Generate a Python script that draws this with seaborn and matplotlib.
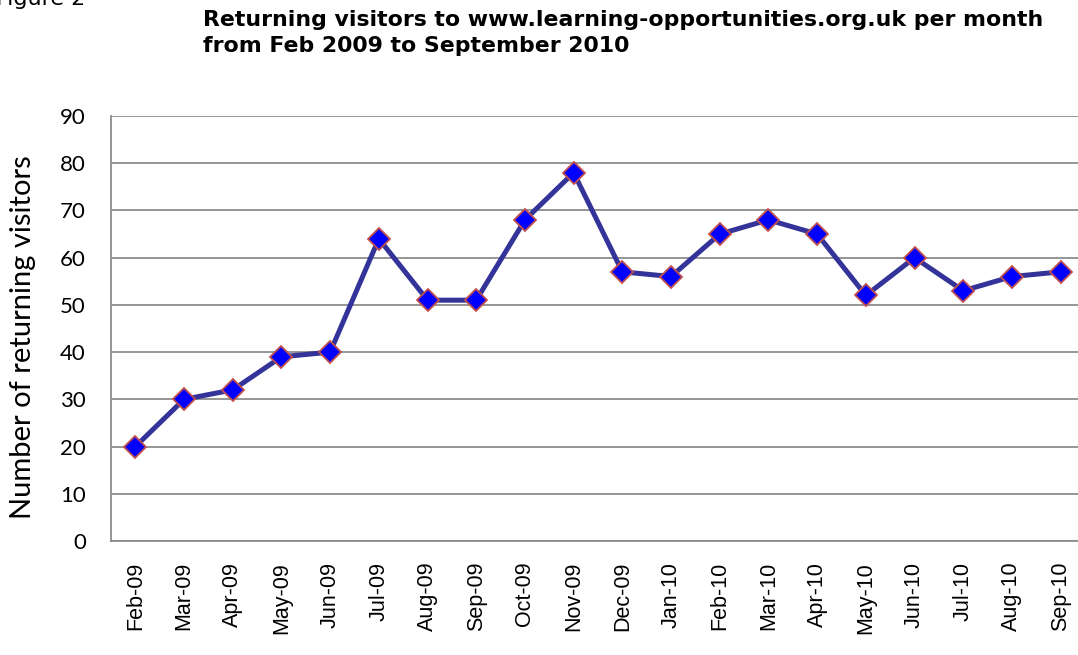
import matplotlib
matplotlib.use("Agg")
import matplotlib.pyplot as plt
import seaborn as sns
import pandas as pd

months = ["Feb-09", "Mar-09", "Apr-09", "May-09", "Jun-09", "Jul-09", "Aug-09", "Sep-09",
          "Oct-09", "Nov-09", "Dec-09", "Jan-10", "Feb-10", "Mar-10", "Apr-10", "May-10",
          "Jun-10", "Jul-10", "Aug-10", "Sep-10"]
visitors = [20, 30, 32, 39, 40, 64, 51, 51, 68, 78, 57, 56, 65, 68, 65, 52, 60, 53, 56, 57]
yticks = [0, 10, 20, 30, 40, 50, 60, 70, 80, 90]

sns.set_theme(style="white")
plt.rcParams['font.family'] = ['Liberation Sans', 'DejaVu Sans']
plt.rcParams['text.color'] = 'black'
plt.rcParams['xtick.color'] = 'black'
plt.rcParams['ytick.color'] = 'black'
plt.rcParams['axes.labelcolor'] = 'black'

df = pd.DataFrame({"month": months, "visitors": visitors, "idx": range(len(months))})

W, H = 1078, 655
fig = plt.figure(figsize=(W / 100, H / 100), dpi=100)
left, right, top, bottom = 111, 1085, 116, 541
ax = fig.add_axes([left / W, 1 - bottom / H, (right - left) / W, (bottom - top) / H])

sns.lineplot(data=df, x="idx", y="visitors", ax=ax, color="#333399", linewidth=3.6,
             marker="D", markersize=11, markerfacecolor="#0000FF",
             markeredgecolor="#C0504D", markeredgewidth=1.3, zorder=3)

ax.set_xlim(-0.5, len(months) - 0.5)
ax.set_ylim(0, 90)
ax.set_yticks(yticks)
ax.set_yticklabels([str(v) for v in yticks], fontsize=16, family=['Lato', 'DejaVu Sans'])
ax.set_xticks(range(len(months)))
ax.set_xticklabels(months, rotation=90, fontsize=15.5)
ax.tick_params(axis="x", length=0, pad=15)
ax.tick_params(axis="y", length=0, pad=18)
ax.yaxis.grid(True, color="#8c8c8c", linewidth=1.3)
ax.set_axisbelow(True)
for s in ["top", "right"]:
    ax.spines[s].set_visible(False)
for s in ["left", "bottom"]:
    ax.spines[s].set_color("#8c8c8c")
    ax.spines[s].set_linewidth(1.3)
ax.set_xlabel("")
ax.set_ylabel("Number of returning visitors", fontsize=21, family=['Lato', 'DejaVu Sans'])
ax.yaxis.set_label_coords((36 - left) / (right - left), (bottom - 337.5) / (bottom - top))

title_font = dict(fontsize=15.8, fontweight="bold", ha="left", va="center",
                  family=['DejaVu Sans'])
fig.text(203 / W, 1 - 20 / H,
         "Returning visitors to www.learning-opportunities.org.uk per month", **title_font)
fig.text(203 / W, 1 - 46 / H, "from Feb 2009 to September 2010", **title_font)
fig.text(85 / W, 1 - 5 / H, "Figure 2", fontsize=16, ha="right", va="baseline",
         family=['DejaVu Sans'])

fig.savefig("out.png", dpi=100)
